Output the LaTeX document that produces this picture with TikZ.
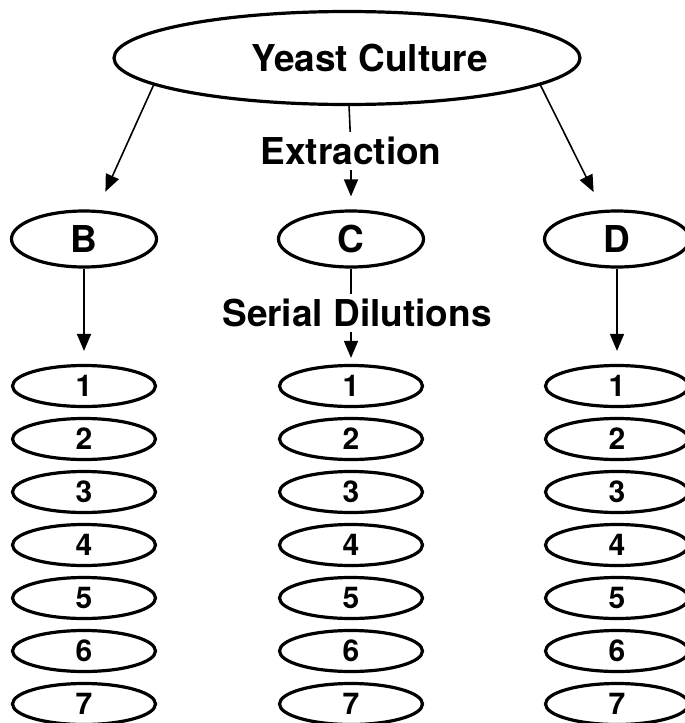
\documentclass[tikz,border=0pt]{standalone}
\usepackage{fontspec}
\setmainfont{TeX Gyre Heros}
\usetikzlibrary{arrows.meta,shapes.geometric}
\tikzset{
  >={Triangle[length=17pt,width=14pt]},
  flow/.style={->,line width=1.6pt},
  link/.style={line width=1.6pt},
  base/.style={ellipse,draw,line width=3.2pt,inner sep=0pt,
               font=\fontsize{37}{40}\selectfont\bfseries},
  culture/.style={base,minimum width=466pt,minimum height=93pt},
  sample/.style={base,minimum width=145pt,minimum height=56pt},
  dilution/.style={base,minimum width=143pt,minimum height=41pt,
                   font=\fontsize{30}{32}\selectfont\bfseries},
  steptext/.style={inner sep=5pt,font=\fontsize{37}{40}\selectfont\bfseries}
}
\begin{document}
\begin{tikzpicture}[x=1pt,y=-1pt]
  \useasboundingbox (0,0) rectangle (685,723);
  \node[culture] (yeast) at (347,58) {\hspace*{46pt}Yeast Culture};
  \node[steptext] (extract) at (351,151) {Extraction};
  \node[sample] (B) at (84,239) {B};
  \node[sample] (C) at (351,239) {C};
  \node[sample] (D) at (617,239) {D};
  \node[steptext] (serial) at (357,313) {Serial Dilutions};
  % seven dilutions under each extract
  \foreach \col/\x in {B/84,C/351,D/617}{
    \foreach \n in {1,...,7}
      \node[dilution] (\col\n) at (\x,{386+53*(\n-1)}) {\n};
  }
  \draw[flow,shorten >=20pt] (yeast.188) -- (B);
  \draw[flow,shorten >=20pt] (yeast.352) -- (D);
  \draw[link] (yeast) -- (extract);
  \draw[flow,shorten >=13pt] (extract) -- (C);
  \draw[flow,shorten >=13pt] (B) -- (B1);
  \draw[link] (C) -- (C |- serial.north);
  \draw[flow,shorten >=6pt] (serial.south -| C) -- (C1);
  \draw[flow,shorten >=13pt] (D) -- (D1);
\end{tikzpicture}
\end{document}
